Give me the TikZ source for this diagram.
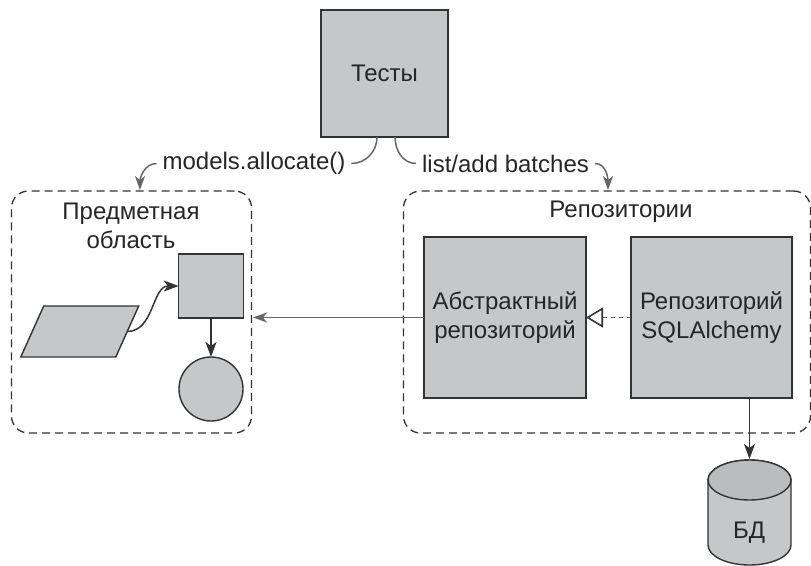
\documentclass[tikz,border=0pt]{standalone}
\usepackage{fontspec}
\setmainfont{Liberation Sans}
\usetikzlibrary{arrows.meta,shapes.geometric}
\definecolor{boxgray}{HTML}{C6C7C9}
\definecolor{endgray}{HTML}{BBBCBE}
\definecolor{linedark}{HTML}{333333}
\definecolor{linegray}{HTML}{666666}

\begin{document}
\begin{tikzpicture}[
    x=1pt,y=-1pt,
    font=\fontsize{24}{28.5}\selectfont,
    every node/.style={outer sep=0pt,text=black!85},
    solidbox/.style={draw=linedark,line width=1.4pt,fill=boxgray,inner sep=0pt,align=center},
    group/.style={draw=linedark,line width=1.3pt,dash pattern=on 8pt off 5pt,rounded corners=17pt,inner sep=0pt},
    title/.style={align=center,inner sep=0pt},
    call/.style={inner sep=6pt},
    link/.style={line width=1.5pt,draw=linegray},
    flow/.style={link,-{Stealth[length=14pt,width=10pt,inset=4pt]}},
    dep/.style={line width=1.5pt,draw=linedark,-{Stealth[length=15pt,width=11pt,inset=4pt]}},
    impl/.style={line width=1.6pt,draw=linedark!80,dash pattern=on 4pt off 4pt,
      -{Triangle[open,length=17pt,width=20pt,fill=white,color=linedark]}}
    ]
    \useasboundingbox (0,0) rectangle (811,565);
    % top box and call labels
    \node[solidbox,minimum width=127pt,minimum height=127pt] (tests) at (384.5,73.5) {Тесты};
    \node[call] (allocate) at (254,163.5) {models.allocate()};
    \node[call] (batches) at (505.5,163.5) {list/add batches};
    % dashed groups
    \node[group,minimum width=240pt,minimum height=242pt] (domain) at (131.5,312) {};
    \node[group,minimum width=407pt,minimum height=242pt] (repos) at (607,312) {};
    \node[title] (domaintitle) at (131,226) {Предметная\\область};
    \node[title] (repostitle) at (621,212) {Репозитории};
    % inside the domain
    \node[solidbox,minimum width=64.5pt,minimum height=64pt] (entity) at (211,286) {};
    \node[solidbox,minimum width=95pt,minimum height=51pt,xslant=0.45] (batch) at (79.75,331.5) {};
    \node[solidbox,circle,minimum size=64pt] (value) at (211,389) {};
    % inside the repository group
    \node[solidbox,minimum width=162pt,minimum height=161pt] (abstractrepo) at (505,317.5) {Абстрактный\\репозиторий};
    \node[solidbox,minimum width=161pt,minimum height=161pt] (sqlrepo) at (711.5,317.5) {Репозиторий\\SQLAlchemy};
    % database
    \draw[draw=linedark,line width=1.4pt,fill=boxgray] (708,480) -- (708,545)
      arc[start angle=180,end angle=360,x radius=41.5pt,y radius=20pt] -- (791,480)
      arc[start angle=0,end angle=180,x radius=41.5pt,y radius=20pt] -- cycle;
    \draw[draw=linedark,line width=1.4pt,fill=endgray] (749.5,480) ellipse[x radius=41.5pt,y radius=20pt];
    \coordinate (dbtop) at (749.5,459);
    \node[title] (db) at (749,533) {БД};
    % connectors
    \draw[link] ([xshift=-7.5pt]tests.south) to[out=-90,in=0] (allocate.east);
    \draw[flow] (allocate.west) to[out=180,in=90] ([xshift=8.5pt,yshift=1pt]domain.north);
    \draw[link] ([xshift=10.5pt]tests.south) to[out=-90,in=180] (batches.west);
    \draw[flow] (batches.east) to[out=0,in=90] ([xshift=1pt,yshift=1pt]repos.north);
    \draw[flow] (abstractrepo.west) -- ([xshift=1.5pt,yshift=-5.5pt]domain.east);
    \draw[dep] (batch.east) to[out=0,in=180] (entity.west);
    \draw[dep] (entity.south) -- (value.north);
    \draw[dep] (sqlrepo.south -| dbtop) -- (dbtop);
    \draw[impl] (sqlrepo.west) -- (abstractrepo.east);
\end{tikzpicture}
\end{document}
